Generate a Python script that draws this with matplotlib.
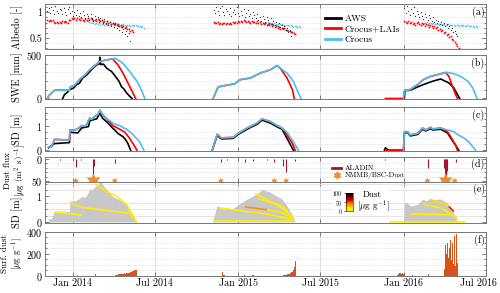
import matplotlib
matplotlib.use('Agg')
import matplotlib.pyplot as plt
import matplotlib.dates as mdates
import matplotlib.transforms as mtransforms
import numpy as np
import pandas as pd
from matplotlib.colors import LinearSegmentedColormap, Normalize
from matplotlib.collections import LineCollection
from matplotlib.lines import Line2D
from matplotlib.patches import Rectangle
from matplotlib.ticker import MultipleLocator, FixedLocator, FuncFormatter
import matplotlib.colorbar as mcolorbar

plt.rcParams.update({
    'font.family': 'serif', 'font.serif': ['cmr10', 'DejaVu Serif'],
    'mathtext.fontset': 'cm', 'axes.formatter.use_mathtext': True,
    'axes.unicode_minus': False, 'font.size': 7.2,
})

# ---------------- DATA ----------------
# (a) Albedo, 3-day sampling: start dates and values per season
alb_aws_starts = ['2013-11-06', '2014-11-08', '2016-01-03']
alb_aws = [
    [1.02, 1.08, 0.98, 1.10, 1.05, 0.96, 1.12, 1.03, 0.99, 1.07,
     1.04, 0.97, 1.09, 1.01, 0.95, 1.06, 1.11, 0.98, 1.02, 0.93,
     1.00, 0.95, 1.04, 0.92, 0.98, 0.90, 1.03, 0.94, 0.88, 0.96,
     0.92, 0.86, 0.97, 0.89, 0.84, 0.93, 0.87, 0.90, 0.82, 0.88,
     0.85, 0.80, 0.87, 0.78, 0.83, 0.76, 0.82, 0.74, 0.79, 0.72,
     0.77, 0.70, 0.74, 0.66, 0.71, 0.62, 0.68, 0.58, 0.64, 0.55, 0.60, 0.45],
    [1.05, 0.98, 1.10, 1.02, 0.95, 1.08, 1.12, 1.00, 0.94, 1.06,
     1.03, 0.97, 1.09, 0.92, 1.01, 1.05, 0.96, 1.10, 0.99, 0.93,
     1.02, 0.95, 1.07, 0.90, 0.98, 1.04, 0.92, 0.97, 0.88, 1.00,
     0.94, 0.89, 0.96, 0.86, 0.91, 0.84, 0.93, 0.87, 0.82, 0.90,
     0.85, 0.80, 0.88, 0.78, 0.83, 0.76, 0.81, 0.74, 0.79, 0.72,
     0.76, 0.70, 0.73, 0.66, 0.69, 0.62, 0.65, 0.55],
    [1.08, 0.98, 1.12, 1.02, 0.94, 1.06, 0.99, 1.10, 0.92, 1.03,
     0.96, 0.90, 1.00, 0.93, 0.87, 0.97, 0.91, 0.85, 0.94, 0.88,
     0.84, 0.90, 0.82, 0.86, 0.80, 0.83, 0.78, 0.81, 0.76, 0.79,
     0.74, 0.77, 0.70, 0.73, 0.66, 0.69, 0.62, 0.64, 0.58, 0.55],
]
alb_lais_starts = ['2013-11-06', '2014-11-08', '2016-01-03']
alb_lais = [
    [0.85, 0.84, 0.86, 0.83, 0.85, 0.82, 0.80, 0.81, 0.79, 0.82,
     0.80, 0.83, 0.81, 0.84, 0.82, 0.80, 0.85, 0.86, 0.88, 0.87,
     0.88, 0.86, 0.89, 0.87, 0.85, 0.88, 0.86, 0.84, 0.87, 0.85,
     0.88, 0.86, 0.89, 0.87, 0.85, 0.86, 0.84, 0.87, 0.85, 0.83,
     0.85, 0.82, 0.84, 0.80, 0.83, 0.79, 0.81, 0.78, 0.80, 0.77,
     0.79, 0.76, 0.77, 0.74, 0.76, 0.72, 0.74, 0.70,
     0.71, 0.67, 0.68, 0.64, 0.65, 0.62],
    [0.82, 0.80, 0.79, 0.81, 0.78, 0.80, 0.77, 0.79, 0.80, 0.78,
     0.79, 0.77, 0.80, 0.78, 0.81, 0.79, 0.82, 0.80, 0.83, 0.81,
     0.84, 0.82, 0.85, 0.83, 0.81, 0.84, 0.82, 0.80, 0.83, 0.81,
     0.82, 0.80, 0.83, 0.79, 0.81, 0.78, 0.80, 0.77, 0.79, 0.76,
     0.78, 0.75, 0.77, 0.74, 0.76, 0.72, 0.74, 0.70, 0.72, 0.68,
     0.70, 0.67, 0.69, 0.65, 0.66, 0.63, 0.64, 0.61, 0.62, 0.60, 0.58],
    [0.84, 0.82, 0.80, 0.83, 0.79, 0.81, 0.78, 0.80, 0.76, 0.79,
     0.82, 0.78, 0.75, 0.80, 0.77, 0.73, 0.78, 0.75, 0.72, 0.76,
     0.74, 0.70, 0.73, 0.69, 0.71, 0.66, 0.68, 0.63, 0.65, 0.60,
     0.62, 0.56, 0.58, 0.52, 0.54, 0.48, 0.46, 0.42, 0.38, 0.34, 0.31],
]
alb_crocus_starts = ['2014-02-01', '2015-03-01', '2016-02-15']
alb_crocus = [
    [0.84, 0.83, 0.82, 0.80, 0.81, 0.79, 0.78, 0.80, 0.77, 0.79,
     0.76, 0.78, 0.77, 0.75, 0.78, 0.76, 0.77, 0.75, 0.76, 0.78,
     0.76, 0.75, 0.77, 0.76, 0.74, 0.76, 0.75, 0.77, 0.75, 0.74,
     0.76, 0.75, 0.74, 0.76, 0.75, 0.73, 0.75, 0.74, 0.73, 0.74,
     0.72, 0.73, 0.70],
    [0.80, 0.79, 0.81, 0.78, 0.80, 0.79, 0.77, 0.79, 0.78, 0.76,
     0.78, 0.77, 0.75, 0.77, 0.76, 0.74, 0.76, 0.75, 0.73, 0.75,
     0.74, 0.72, 0.74, 0.73, 0.72, 0.73, 0.71],
    [0.80, 0.79, 0.81, 0.78, 0.80, 0.79, 0.78, 0.79, 0.77, 0.78,
     0.77, 0.76, 0.78, 0.77, 0.76, 0.77, 0.75, 0.76, 0.77, 0.75,
     0.76, 0.75, 0.76, 0.74, 0.75, 0.76, 0.74, 0.75, 0.74, 0.75,
     0.74, 0.73, 0.75, 0.74, 0.73, 0.74, 0.73, 0.72, 0.73, 0.72],
]

# (b) SWE [mm]
swe_aws_dates = [
    ['2013-12-10', '2013-12-14', '2013-12-20', '2013-12-25', '2014-01-03', '2014-01-10', '2014-01-16',
     '2014-01-23', '2014-01-30', '2014-02-08', '2014-02-15', '2014-02-23', '2014-03-01', '2014-03-02',
     '2014-03-04', '2014-03-10', '2014-03-17', '2014-03-22', '2014-03-28', '2014-04-03', '2014-04-08',
     '2014-04-13', '2014-04-19', '2014-04-24', '2014-04-30', '2014-05-06', '2014-05-12'],
    ['2016-01-03', '2016-01-04', '2016-01-16', '2016-02-01', '2016-02-14', '2016-03-05', '2016-03-23',
     '2016-03-29', '2016-04-10', '2016-04-21', '2016-04-29', '2016-05-04'],
]
swe_aws = [
    [0, 45, 70, 100, 120, 160, 175, 235, 260, 310, 350, 386, 400, 475, 390, 395, 349, 330, 310, 270,
     235, 200, 133, 110, 64, 30, 0],
    [0, 90, 95, 133, 160, 198, 224, 209, 179, 122, 45, 0],
]
swe_lais_dates = [
    ['2013-11-07', '2013-11-09', '2013-11-22', '2013-12-25', '2013-12-27', '2014-01-05', '2014-01-16',
     '2014-01-28', '2014-02-08', '2014-02-19', '2014-03-02', '2014-03-13', '2014-03-24', '2014-03-30',
     '2014-04-11', '2014-04-22', '2014-05-03', '2014-05-14', '2014-05-20'],
    ['2014-11-07', '2014-11-18', '2014-12-05', '2014-12-25', '2015-01-05', '2015-01-28', '2015-02-19',
     '2015-03-13', '2015-03-28', '2015-04-04', '2015-04-19', '2015-05-01', '2015-05-05'],
    ['2015-11-22', '2016-01-01', '2016-01-03', '2016-01-16', '2016-02-01', '2016-02-14', '2016-03-01',
     '2016-03-16', '2016-04-03', '2016-04-10', '2016-04-18', '2016-04-25', '2016-04-29'],
]
swe_lais = [
    [0, 30, 95, 95, 133, 150, 216, 270, 330, 380, 424, 440, 450, 455, 386, 292, 178, 64, 0],
    [0, 133, 150, 170, 216, 235, 292, 330, 378, 349, 235, 100, 0],
    [0, 0, 90, 103, 160, 217, 255, 274, 300, 255, 140, 45, 0],
]
swe_crocus_dates = [
    ['2013-11-07', '2013-11-09', '2013-11-22', '2013-12-25', '2013-12-27', '2014-01-05', '2014-01-16',
     '2014-01-28', '2014-02-08', '2014-02-19', '2014-03-02', '2014-03-13', '2014-03-24', '2014-04-04',
     '2014-04-12', '2014-04-22', '2014-05-07', '2014-05-23', '2014-06-03', '2014-06-09'],
    ['2014-11-07', '2014-11-18', '2014-12-05', '2014-12-25', '2015-01-05', '2015-01-28', '2015-02-19',
     '2015-03-13', '2015-03-28', '2015-04-04', '2015-04-19', '2015-05-03', '2015-05-14', '2015-05-20'],
    ['2016-01-01', '2016-01-03', '2016-01-16', '2016-02-01', '2016-02-14', '2016-03-01', '2016-03-16',
     '2016-04-07', '2016-04-21', '2016-05-06', '2016-05-22', '2016-06-02', '2016-06-11'],
]
swe_crocus = [
    [0, 30, 95, 95, 133, 150, 216, 270, 330, 380, 424, 440, 450, 462, 440, 405, 310, 197, 83, 0],
    [0, 133, 150, 170, 216, 235, 292, 330, 378, 349, 292, 197, 64, 0],
    [0, 90, 103, 160, 217, 255, 274, 300, 285, 255, 198, 122, 0],
]

# (c) Snow depth [m]
sd_aws_dates = [
    ['2013-11-09', '2013-11-22', '2013-12-25', '2013-12-26', '2014-01-12', '2014-01-21', '2014-02-05',
     '2014-02-08', '2014-02-23', '2014-03-02', '2014-03-08', '2014-03-20', '2014-03-30', '2014-04-05',
     '2014-04-11', '2014-04-22', '2014-04-27', '2014-05-03', '2014-05-09'],
    ['2014-11-05', '2014-11-16', '2014-11-25', '2014-12-21', '2015-01-01', '2015-01-21', '2015-01-28',
     '2015-02-12', '2015-02-23', '2015-03-13', '2015-03-28', '2015-04-08', '2015-04-19', '2015-05-01',
     '2015-05-03'],
    ['2015-11-20', '2015-11-22', '2015-11-29', '2016-01-01', '2016-01-03', '2016-01-10', '2016-01-16',
     '2016-02-01', '2016-02-12', '2016-02-19', '2016-03-01', '2016-03-05', '2016-03-23', '2016-04-07',
     '2016-04-14', '2016-04-25', '2016-05-02'],
]
sd_aws = [
    [0.1, 0.27, 0.31, 0.73, 0.7, 0.9, 0.96, 1.2, 1.27, 1.5, 1.3, 1.1, 0.9, 0.8, 0.68, 0.55, 0.45, 0.27, 0],
    [0, 0.6, 0.46, 0.48, 0.64, 0.85, 0.92, 1.05, 1.22, 1.1, 0.95, 0.85, 0.48, 0.07, 0],
    [0, 0.1, 0, 0, 0.7, 0.72, 0.58, 0.64, 0.85, 0.78, 0.88, 0.82, 0.85, 0.7, 0.5, 0.2, 0],
]
sd_lais_dates = [
    ['2013-11-09', '2013-11-15', '2013-11-22', '2013-12-25', '2013-12-26', '2014-01-05', '2014-01-10',
     '2014-01-16', '2014-01-21', '2014-01-28', '2014-02-01', '2014-02-08', '2014-02-12', '2014-02-19',
     '2014-02-26', '2014-03-02', '2014-03-06', '2014-03-17', '2014-03-30', '2014-04-15', '2014-04-26',
     '2014-05-07', '2014-05-14', '2014-05-23'],
    ['2014-11-05', '2014-11-16', '2014-11-25', '2014-12-21', '2015-01-01', '2015-01-21', '2015-01-28',
     '2015-02-12', '2015-02-23', '2015-03-13', '2015-03-28', '2015-04-08', '2015-04-19', '2015-05-01',
     '2015-05-07'],
    ['2015-11-22', '2016-01-01', '2016-01-03', '2016-01-10', '2016-01-16', '2016-02-01', '2016-02-12',
     '2016-02-19', '2016-03-01', '2016-03-05', '2016-03-23', '2016-04-07', '2016-04-14', '2016-04-25',
     '2016-04-29'],
]
sd_lais = [
    [0.14, 0.12, 0.44, 0.41, 0.82, 0.82, 0.85, 0.92, 1.0, 0.97, 1.05, 1.3, 1.25, 1.37, 1.45, 1.62, 1.5,
     1.27, 1.0, 0.85, 0.73, 0.48, 0.27, 0],
    [0, 0.65, 0.5, 0.52, 0.68, 0.9, 0.96, 1.1, 1.27, 1.16, 1.0, 0.9, 0.62, 0.27, 0],
    [0, 0, 0.75, 0.75, 0.62, 0.68, 0.9, 0.82, 0.93, 0.86, 0.9, 0.75, 0.55, 0.2, 0],
]
sd_crocus_dates = [
    ['2013-11-09', '2013-11-15', '2013-11-22', '2013-12-25', '2013-12-26', '2014-01-05', '2014-01-10',
     '2014-01-16', '2014-01-21', '2014-01-28', '2014-02-01', '2014-02-08', '2014-02-12', '2014-02-19',
     '2014-02-26', '2014-03-02', '2014-03-06', '2014-03-17', '2014-03-24', '2014-03-30', '2014-04-08',
     '2014-04-15', '2014-04-22', '2014-04-30', '2014-05-14', '2014-05-29', '2014-06-07'],
    ['2014-11-05', '2014-11-16', '2014-11-25', '2014-12-21', '2015-01-01', '2015-01-21', '2015-01-28',
     '2015-02-12', '2015-02-23', '2015-03-13', '2015-03-28', '2015-04-08', '2015-04-19', '2015-05-03',
     '2015-05-14'],
    ['2016-01-01', '2016-01-03', '2016-01-10', '2016-01-16', '2016-02-01', '2016-02-12', '2016-02-19',
     '2016-03-01', '2016-03-05', '2016-03-23', '2016-04-07', '2016-04-21', '2016-04-29', '2016-05-13',
     '2016-05-24', '2016-06-08'],
]
sd_crocus = [
    [0.14, 0.12, 0.44, 0.41, 0.82, 0.82, 0.85, 0.92, 1.0, 0.97, 1.05, 1.3, 1.25, 1.37, 1.45, 1.62, 1.5,
     1.27, 1.2, 1.1, 1.02, 1.0, 0.92, 0.85, 0.64, 0.34, 0],
    [0, 0.65, 0.5, 0.52, 0.68, 0.9, 0.96, 1.1, 1.27, 1.16, 1.0, 0.9, 0.73, 0.34, 0],
    [0, 0.75, 0.75, 0.62, 0.68, 0.9, 0.82, 0.93, 0.86, 0.9, 0.82, 0.75, 0.64, 0.5, 0.34, 0],
]

# (d) Dust deposition flux
aladin_dates = ['2013-12-05', '2014-01-08', '2014-01-20', '2014-02-16', '2014-02-17', '2014-04-04',
                '2014-11-24', '2014-12-08', '2015-01-16', '2015-02-02', '2015-03-05', '2015-03-22',
                '2015-04-10', '2015-04-17', '2015-05-07', '2015-11-22', '2016-01-01', '2016-02-23',
                '2016-03-31', '2016-04-02', '2016-04-03', '2016-04-04', '2016-04-06', '2016-04-25']
aladin_flux = [2, 18, 3, 52, 15, 9, 6, 3, 6, 4, 3, 6, 15, 30, 5, 3, 3, 20, 20, 45, 52, 35, 28, 6]
nmmb_dates = ['2014-01-08', '2014-02-16', '2014-04-04', '2014-11-24', '2015-03-22', '2015-04-17',
              '2016-02-23', '2016-04-03', '2016-04-23']
nmmb_flux = [8, 40, 8, 8, 8, 8, 8, 40, 8]

# (e) Dust-containing layers inside the snowpack
layer_dates = [
    ['2013-11-22', '2014-01-21'],
    ['2013-12-29', '2014-01-23', '2014-03-17', '2014-05-07', '2014-05-22'],
    ['2014-02-19', '2014-03-17', '2014-04-08', '2014-04-30', '2014-05-22'],
    ['2014-11-07', '2015-05-05'],
    ['2014-11-22', '2015-01-05', '2015-03-06', '2015-05-03'],
    ['2015-01-16', '2015-03-06', '2015-04-10', '2015-05-03'],
    ['2015-02-08', '2015-03-13', '2015-04-10', '2015-05-03'],
    ['2015-02-15', '2015-03-28', '2015-04-26'],
    ['2015-12-01', '2016-05-15'],
    ['2016-01-16', '2016-04-18', '2016-04-29'],
    ['2016-02-14', '2016-03-23', '2016-04-29'],
    ['2016-03-01', '2016-04-10', '2016-04-21'],
]
layer_depth = [
    [0.39, 0.27],
    [0.72, 0.57, 0.44, 0.35, 0.0],
    [1.48, 1.19, 1.0, 0.68, 0.0],
    [0.02, 0.02],
    [0.55, 0.44, 0.31, 0.08],
    [0.59, 0.48, 0.35, 0.12],
    [1.11, 0.81, 0.61, 0.15],
    [0.92, 0.68, 0.3],
    [0.01, 0.01],
    [0.31, 0.28, 0.08],
    [0.68, 0.55, 0.15],
    [0.88, 0.61, 0.41],
]
layer_dust = [
    [4, 4], [8, 8, 8, 8, 8], [10, 10, 10, 10, 10], [6, 6], [8, 8, 8, 8],
    [60, 12, 10, 10], [10, 10, 10, 10], [6, 6, 6], [6, 6], [8, 8, 8], [8, 8, 8], [10, 20, 90],
]

# (f) Surface dust concentration, daily values per episode
surf_starts = ['2014-01-12', '2014-02-19', '2014-04-05', '2014-04-28',
               '2014-11-26', '2015-01-14', '2015-02-01', '2015-04-11',
               '2015-12-19', '2016-01-20', '2016-02-25', '2016-03-30']
surf_dust = [
    [5],
    [8, 15, 12, 6],
    [3, 4, 5, 6, 5, 8, 10, 12, 14, 12, 10, 15, 18, 20, 17, 14, 12, 10, 16, 20, 22, 18],
    [15, 18, 20, 22, 25, 24, 27, 30, 28, 32, 34, 36, 38, 35, 40, 42, 44, 46, 48, 50, 52, 50, 54, 55, 52],
    [15, 40, 30, 10, 5, 8, 6, 4],
    [27, 10],
    [5, 4, 6, 3, 5],
    [3, 4, 6, 5, 8, 7, 10, 9, 12, 14, 12, 16, 18, 15, 20, 24, 22, 28, 32, 30, 38, 45, 52, 60, 75, 90,
     110, 130, 85],
    [8, 12, 15, 18, 20, 22, 25, 24, 20, 18, 22, 25, 20, 15, 10, 5],
    [4, 6, 5],
    [12, 8],
    [20, 60, 150, 330, 280, 350, 200, 120, 300, 240, 160, 90, 250, 310, 180, 330, 260, 140, 220, 300,
     190, 110, 260, 360, 240, 170, 90, 200, 380, 260, 120, 60],
]

series_labels = ['AWS', 'Crocus+LAIs', 'Crocus']
panel_labels = ['(a)', '(b)', '(c)', '(d)', '(e)', '(f)']

# ---------------- STYLE ----------------
C_AWS, C_LAIS, C_CRO = 'black', '#ff0000', '#4dbeee'
C_ALADIN, C_NMMB, C_BAR = '#a2142f', '#f28c28', '#d95319'
dust_cmap = LinearSegmentedColormap.from_list(
    'dust', [(0, '#ffff00'), (0.2, '#ffd400'), (0.4, '#ff8000'), (0.6, '#e00000'),
             (0.8, '#600000'), (1.0, '#000000')])
dnorm = Normalize(0, 100)
star = (6, 1, 0)

fig = plt.figure(figsize=(5, 2.93), dpi=100)
LEFT, WID = 45 / 500, 441 / 500


def add(top, bot):
    return fig.add_axes([LEFT, 1 - bot / 293, WID, (bot - top) / 293])


axa = add(4, 49)
axb = add(55, 99)
axc = add(107, 151)
axd = add(157, 182)
axe = add(182, 223)
axf = add(232, 276)
axes = [axa, axb, axc, axd, axe, axf]

xmin, xmax = pd.Timestamp('2013-11-01'), pd.Timestamp('2016-07-01')
ylabels = ['Albedo [-]', 'SWE [mm]', 'SD [m]', 'Dust flux\n[$\\mu$g (m$^2$ s)$^{-1}$]', 'SD [m]',
           'Surf. dust\n[$\\mu$g g$^{-1}$]']
ylabel_y = [0.5, 0.5, 0.5, 0.45, 0.26, 0.5]
ylabel_x = [-0.05, -0.05, -0.05, -0.038, -0.05, -0.045]
for i, ax in enumerate(axes):
    ax.set_xlim(xmin, xmax)
    ax.xaxis.set_major_locator(mdates.MonthLocator(bymonth=[1, 7]))
    ax.xaxis.set_major_formatter(mdates.DateFormatter('%b %Y'))
    ax.tick_params(which='both', direction='in', top=True, right=True, color='#666666', width=0.6,
                   labelsize=7.2, pad=2)
    ax.tick_params(which='major', length=3)
    ax.tick_params(which='minor', length=1.5)
    ax.grid(True, axis='x', which='major', color='#dcdcdc', lw=0.6, ls='-')
    ax.grid(True, axis='y', which='minor', color='#cfcfcf', lw=0.5, ls=':')
    ax.set_axisbelow(True)
    for s in ax.spines.values():
        s.set_color('#777777')
        s.set_linewidth(0.7)
    two = '\n' in ylabels[i]
    ax.set_ylabel(ylabels[i], fontsize=(6.5 if two else 7.4), linespacing=1.1)
    ax.yaxis.set_label_coords(ylabel_x[i], ylabel_y[i])
    if ax is not axf:
        ax.tick_params(labelbottom=False)
    ax.text(0.997, 0.95, panel_labels[i], transform=ax.transAxes, ha='right', va='top', fontsize=7.2)

# (a)
for st, v in zip(alb_crocus_starts, alb_crocus):
    axa.plot(pd.date_range(st, periods=len(v), freq='3D'), v, ls='none', marker='.', ms=2.2,
             color=C_CRO, mew=0)
for st, v in zip(alb_lais_starts, alb_lais):
    axa.plot(pd.date_range(st, periods=len(v), freq='3D'), v, ls='none', marker='.', ms=2.6,
             color=C_LAIS, mew=0)
for st, v in zip(alb_aws_starts, alb_aws):
    axa.plot(pd.date_range(st, periods=len(v), freq='3D'), v, ls='none', marker='.', ms=1.8,
             color='#333333', mew=0)
axa.set_ylim(0.29, 1.16)
axa.yaxis.set_major_locator(FixedLocator([0.5, 1]))
axa.yaxis.set_minor_locator(MultipleLocator(0.1))
axa.yaxis.set_major_formatter(FuncFormatter(lambda v, p: f'{v:g}'))
handles = [Line2D([], [], color=c, lw=2) for c in (C_AWS, C_LAIS, C_CRO)]
axa.legend(handles, series_labels, loc='upper left', bbox_to_anchor=(0.62, 0.92), fontsize=6.8,
           frameon=True, fancybox=False, edgecolor='white', framealpha=1, handlelength=1.7,
           labelspacing=0.2, borderpad=0.2, handletextpad=0.4)


def lines(ax, dates_list, vals_list, color, lw=1.2):
    for d, v in zip(dates_list, vals_list):
        ax.plot(pd.to_datetime(d), v, color=color, lw=lw)


# (b)
lines(axb, swe_aws_dates, swe_aws, C_AWS)
lines(axb, swe_lais_dates, swe_lais, C_LAIS)
lines(axb, swe_crocus_dates, swe_crocus, C_CRO)
axb.set_ylim(-6, 500)
axb.yaxis.set_major_locator(FixedLocator([0, 500]))
axb.yaxis.set_minor_locator(MultipleLocator(100))

# (c)
lines(axc, sd_aws_dates, sd_aws, C_AWS)
lines(axc, sd_lais_dates, sd_lais, C_LAIS)
lines(axc, sd_crocus_dates, sd_crocus, C_CRO)
axc.set_ylim(-0.03, 1.75)
axc.yaxis.set_major_locator(FixedLocator([0, 1]))
axc.yaxis.set_minor_locator(MultipleLocator(0.25))

# (d)
axd.vlines(pd.to_datetime(aladin_dates), 0, aladin_flux, color=C_ALADIN, lw=0.8)
axd.scatter(pd.to_datetime(nmmb_dates), [50] * len(nmmb_dates),
            s=[(2.5 + 0.2 * f) ** 2 for f in nmmb_flux], marker=star, color=C_NMMB, lw=0.3,
            edgecolor=C_NMMB, zorder=5, clip_on=False)
axd.set_ylim(52, -4.5)
axd.yaxis.set_major_locator(FixedLocator([0, 50]))
axd.yaxis.set_minor_locator(MultipleLocator(10))
fig.legend([Line2D([], [], color=C_ALADIN, lw=2),
            Line2D([], [], ls='none', marker=star, color=C_NMMB, ms=5)],
           ['ALADIN', 'NMMB/BSC-Dust'], loc='upper left', bbox_to_anchor=(0.655, 0.452),
           frameon=False, fontsize=5.3, handlelength=1.3, labelspacing=0.15, borderpad=0.1,
           handletextpad=0.5)

# (e)
axe.grid(True, axis='y', which='minor', color='#e0e0e0', lw=0.6, ls='-')
for d, v in zip(sd_lais_dates, sd_lais):
    axe.fill_between(pd.to_datetime(d), 0, v, color='#c8c8c8', lw=0, zorder=2)
for d, v, c in zip(layer_dates, layer_depth, layer_dust):
    x = mdates.date2num(pd.to_datetime(d))
    pts = np.column_stack([x, v])
    segs = np.stack([pts[:-1], pts[1:]], axis=1)
    cvals = [(c[k] + c[k + 1]) / 2 for k in range(len(c) - 1)]
    lc = LineCollection(segs, cmap=dust_cmap, norm=dnorm, lw=1.2, zorder=3)
    lc.set_array(np.array(cvals))
    axe.add_collection(lc)
axe.set_ylim(-0.04, 1.56)
axe.yaxis.set_major_locator(FixedLocator([0, 1]))
axe.yaxis.set_minor_locator(MultipleLocator(0.25))
axe.add_patch(Rectangle((333 / 500, 1 - 216 / 293), 56 / 500, 27 / 293, transform=fig.transFigure,
                        facecolor='white', edgecolor='none', zorder=10, clip_on=False))
cax = fig.add_axes([346 / 500, 1 - 211 / 293, 7 / 500, 18 / 293])
cb = mcolorbar.ColorbarBase(cax, cmap=dust_cmap, norm=dnorm, ticks=[0, 50, 100])
cax.yaxis.set_ticks_position('left')
cax.tick_params(labelsize=4.2, length=1.5, width=0.4, pad=1)
cb.outline.set_linewidth(0.4)
fig.text(372 / 500, 1 - 195 / 293, 'Dust', ha='center', va='center', fontsize=6.5)
fig.text(373 / 500, 1 - 206.5 / 293, '[$\\mu$g g$^{-1}$]', ha='center', va='center', fontsize=6.5)

# (f)
for st, v in zip(surf_starts, surf_dust):
    axf.bar(pd.date_range(st, periods=len(v), freq='D'), v, width=1.0, color=C_BAR, lw=0, zorder=3)
axf.set_ylim(-3, 400)
axf.yaxis.set_major_locator(FixedLocator([0, 200, 400]))
axf.yaxis.set_minor_locator(MultipleLocator(50))

# keep the last date label inside the figure, as in the reference
fig.canvas.draw()
lab = axf.get_xticklabels()[-1]
lab.set_transform(lab.get_transform() + mtransforms.ScaledTranslation(-8 / 100, 0, fig.dpi_scale_trans))

fig.savefig('out.png', dpi=100)
